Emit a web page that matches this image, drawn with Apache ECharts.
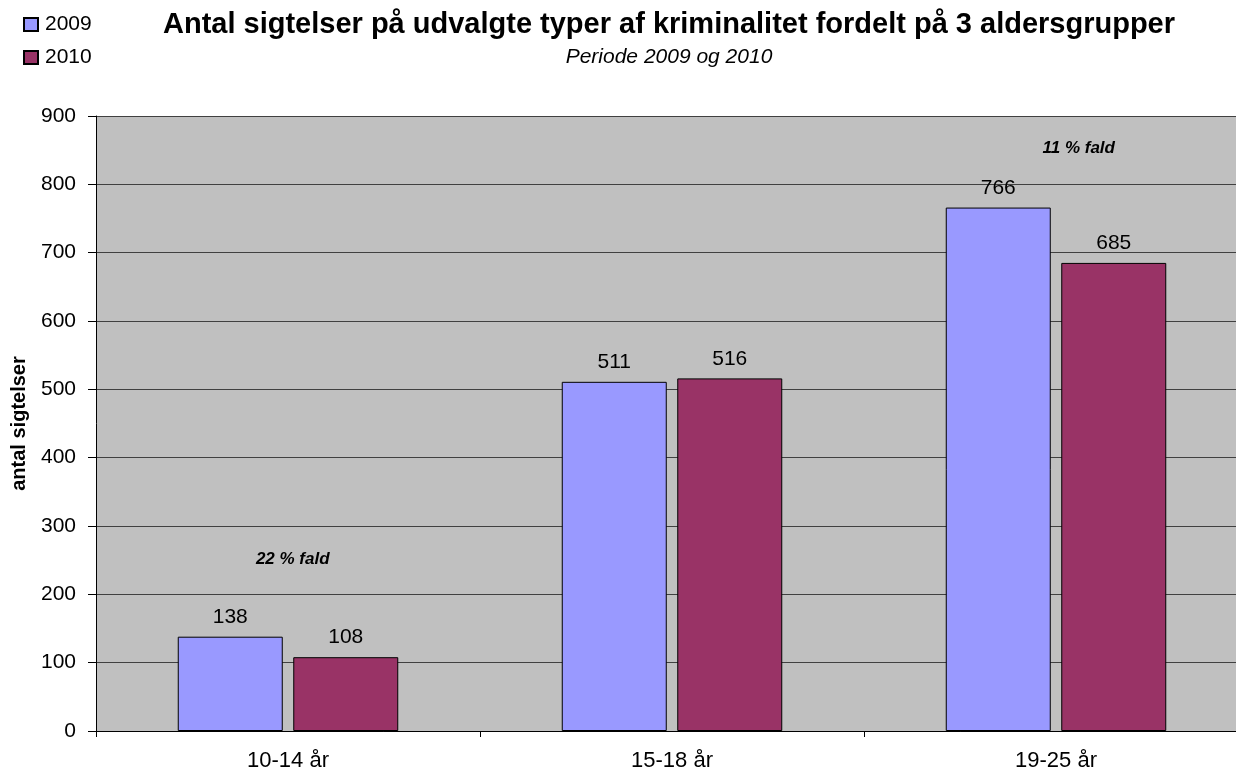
<!DOCTYPE html>
<html>
<head>
<meta charset="utf-8">
<script src="https://cdn.jsdelivr.net/npm/echarts@6/dist/echarts.min.js"></script>
<style>
  html, body { margin: 0; padding: 0; overflow: hidden; background: #fff; }
  #chart { width: 1248px; height: 778px; }
</style>
</head>
<body>
<div id="chart"></div>
<script>
const categories = ['10-14 år', '15-18 år', '19-25 år'];
const values2009 = [138, 511, 766];
const values2010 = [108, 516, 685];
const yTicks = { min: 0, max: 900, interval: 100 };
// annotations: [category, value, text]
const notes = [['10-14 år', 251, '22 % fald'], ['19-25 år', 852, '11 % fald']];

const font = 'Liberation Sans, Arial, sans-serif';
const chart = echarts.init(document.getElementById('chart'));

chart.setOption({
  backgroundColor: '#fff',
  animation: false,
  textStyle: { fontFamily: font },
  title: {
    text: 'Antal sigtelser på udvalgte typer af kriminalitet fordelt på 3 aldersgrupper',
    subtext: 'Periode 2009 og 2010',
    left: 669,
    textAlign: 'center',
    top: 10,
    padding: 0,
    itemGap: 8,
    textStyle: { fontFamily: font, fontSize: 29, fontWeight: 'bold', color: '#000' },
    subtextStyle: { fontFamily: font, fontSize: 21, fontStyle: 'italic', color: '#000' }
  },
  legend: {
    orient: 'vertical',
    left: 23,
    top: 14,
    padding: 0,
    itemWidth: 14,
    itemHeight: 13,
    itemGap: 12,
    icon: 'rect',
    textStyle: { fontFamily: font, fontSize: 21, lineHeight: 21, color: '#000', padding: [0, 0, 0, 2] },
    data: ['2009', '2010']
  },
  grid: { left: 96, right: 0, top: 116, bottom: 47, containLabel: false, outerBoundsMode: 'none' },
  xAxis: {
    type: 'category',
    data: categories,
    axisLine: { lineStyle: { color: '#000', width: 1 } },
    axisTick: { show: true, length: 6, lineStyle: { color: '#000' } },
    axisLabel: { fontFamily: font, fontSize: 22, color: '#000', margin: 19 },
    splitLine: { show: false }
  },
  yAxis: {
    type: 'value',
    min: yTicks.min,
    max: yTicks.max,
    interval: yTicks.interval,
    name: 'antal sigtelser',
    nameLocation: 'middle',
    nameGap: 67,
    nameTextStyle: { fontFamily: font, fontSize: 20, fontWeight: 'bold', color: '#000' },
    axisLine: { show: true, lineStyle: { color: '#000', width: 1 } },
    axisTick: { show: true, length: 8, lineStyle: { color: '#000' } },
    axisLabel: { fontFamily: font, fontSize: 21, color: '#000', margin: 20 },
    splitLine: { show: true, lineStyle: { color: '#404040', width: 1 } },
    splitArea: { show: true, areaStyle: { color: ['#c0c0c0', '#c0c0c0'] } }
  },
  series: [
    {
      name: '2009',
      type: 'bar',
      data: values2009,
      barWidth: 105,
      barGap: '10%',
      itemStyle: { color: '#9999ff', borderColor: '#000', borderWidth: 1 },
      label: { show: true, position: 'top', distance: 9, fontFamily: font, fontSize: 21, color: '#000' }
    },
    {
      name: '2010',
      type: 'bar',
      data: values2010,
      barWidth: 105,
      itemStyle: { color: '#993366', borderColor: '#000', borderWidth: 1 },
      label: { show: true, position: 'top', distance: 9, fontFamily: font, fontSize: 21, color: '#000' },
      markPoint: {
        symbol: 'circle',
        symbolSize: 0,
        silent: true,
        data: notes.map(function (n, i) {
          return {
            coord: [n[0], n[1]],
            label: {
              show: true,
              formatter: n[2],
              position: 'inside',
              offset: [i === 0 ? -53 : -35, 0],
              fontFamily: font,
              fontSize: 17,
              fontWeight: 'bold',
              fontStyle: 'italic',
              color: '#000'
            }
          };
        })
      }
    }
  ]
});
</script>
</body>
</html>
